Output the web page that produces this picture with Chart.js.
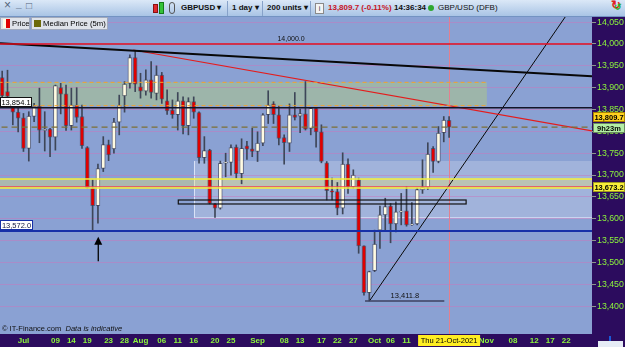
<!DOCTYPE html>
<html>
<head>
<meta charset="utf-8">
<title>GBPUSD 1 day</title>
<script src="https://cdn.jsdelivr.net/npm/chart.js@4.4.1/dist/chart.umd.min.js"></script>
<style>
  html, body { margin: 0; padding: 0; background: #2c0c5e; overflow: hidden; }
  #wrap { position: relative; width: 625px; height: 347px; font-family: "Liberation Sans", Arial, sans-serif; }
  #chart { position: absolute; left: 0; top: 0; }
  #toolbar { position: absolute; left: 0; top: 0; width: 625px; height: 16px; background: linear-gradient(#dbe8f7, #a9c4e5); border-bottom: 1px solid #7393c2; }
  #toolbar > * { position: absolute; white-space: nowrap; }
  .tb { top: 3px; font-size: 8px; line-height: 10px; font-weight: bold; color: #111; }
  .sep { top: 1px; width: 1px; height: 15px; background: #87a2c9; }
  .leg { position: absolute; top: 17px; height: 11px; background: #dfe3ea; border: 1px solid #a0a9bb; font-size: 7.7px; line-height: 11px; color: #000; white-space: nowrap; }
  #copy { position: absolute; left: 2px; top: 324px; font-size: 7.5px; line-height: 10px; color: #111; white-space: nowrap; }
</style>
</head>
<body>
<div id="wrap">
  <canvas id="chart" width="625" height="347"></canvas>
  <div id="toolbar">
    <span class="tb" style="left:4px;top:0;font-size:12px;font-weight:normal;color:#53637b">×</span>
    <span class="tb" style="left:16px;top:-1px;font-size:10px;color:#53637b">_</span>
    <span class="tb" style="left:26px;top:1px;font-size:10px;font-weight:normal;color:#53637b">□</span>
    <div style="left:153px;top:4px;width:3px;height:7px;background:#e0282c;border:1px solid #8a1010"></div>
    <div style="left:159px;top:2px;width:3px;height:10px;background:#34c238;border:1px solid #147a18"></div>
    <div style="left:169px;top:2px;width:4px;height:10px;border:1.5px solid #555;border-radius:3px"></div>
    <span class="tb" style="left:181px">GBPUSD ▾</span>
    <div class="sep" style="left:227px"></div>
    <span class="tb" style="left:232px">1 day ▾</span>
    <div class="sep" style="left:262px"></div>
    <span class="tb" style="left:267px">200 units ▾</span>
    <div class="sep" style="left:310px"></div>
    <div style="left:315px;top:3px;width:7px;height:9px;background:#f4f4f4;border:1px solid #8a8a8a;font-size:7px;line-height:9px;text-align:center;color:#333">i</div>
    <span class="tb" style="left:328px;color:#c8141e">13,809.7 (-0.11%)</span>
    <span class="tb" style="left:394px">14:36:34</span>
    <div style="left:428px;top:5px;width:6px;height:6px;border-radius:50%;background:#2fa830"></div>
    <span class="tb" style="left:438px;font-weight:normal">GBP/USD (DFB)</span>
    <span class="tb" style="left:611px;top:0;font-size:12px;color:#e02020">↻</span>
    <span class="tb" style="left:614px;top:2px;font-size:9px;color:#20b020">↺</span>
  </div>
  <div class="leg" style="left:0;width:28px">
    <span style="position:absolute;left:2px;top:1px;width:3px;height:9px;background:#fffbe6"></span>
    <span style="position:absolute;left:5px;top:1px;width:4px;height:9px;background:#e00000"></span>
    <span style="position:absolute;left:11px">Price</span>
  </div>
  <div class="leg" style="left:31px;width:75px">
    <span style="position:absolute;left:2px;top:2px;width:7px;height:7px;background:#6d6a0a"></span>
    <span style="position:absolute;left:11px">Median Price (5m)</span>
  </div>
  <div id="copy">© IT-Finance.com&nbsp; <i>Data is indicative</i></div>
</div>

<script>
// daily OHLC, one entry per trading day starting 25 Jun 2021
const openP = [13923, 13891, 13858, 13844, 13831, 13761, 13834, 13858, 13802, 13805,
  13787, 13900, 13886, 13813, 13860, 13834, 13763, 13670, 13630, 13715,
  13770, 13760, 13821, 13881, 13910, 13969, 13902, 13892, 13918, 13887,
  13929, 13870, 13849, 13838, 13870, 13813, 13868, 13843, 13740, 13757,
  13634, 13624, 13727, 13729, 13764, 13703, 13767, 13760, 13754, 13773,
  13838, 13863, 13838, 13786, 13773, 13838, 13835, 13840, 13807, 13853,
  13799, 13728, 13664, 13662, 13624, 13725, 13673, 13689, 13538, 13431,
  13481, 13574, 13609, 13629, 13588, 13615, 13618, 13586, 13588, 13666,
  13672, 13761, 13731, 13797, 13825];
const highP = [13938, 13940, 13868, 13854, 13841, 13845, 13864, 13899, 13845, 13807,
  13906, 13910, 13906, 13899, 13900, 13860, 13765, 13689, 13725, 13788,
  13780, 13830, 13883, 13914, 13975, 13984, 13933, 13941, 13960, 13950,
  13935, 13895, 13872, 13889, 13879, 13877, 13879, 13845, 13788, 13759,
  13635, 13732, 13750, 13769, 13769, 13783, 13777, 13807, 13799, 13841,
  13893, 13868, 13858, 13792, 13863, 13889, 13851, 13914, 13853, 13854,
  13815, 13731, 13693, 13683, 13751, 13737, 13712, 13693, 13538, 13480,
  13574, 13629, 13647, 13635, 13639, 13658, 13673, 13637, 13670, 13735,
  13774, 13765, 13811, 13834, 13834];
const lowP = [13876, 13856, 13815, 13799, 13754, 13732, 13822, 13774, 13755, 13742,
  13757, 13840, 13802, 13803, 13821, 13761, 13670, 13572, 13590, 13708,
  13733, 13750, 13792, 13844, 13899, 13891, 13876, 13883, 13876, 13872,
  13864, 13839, 13830, 13803, 13794, 13792, 13830, 13727, 13727, 13634,
  13603, 13622, 13696, 13700, 13693, 13680, 13736, 13742, 13731, 13767,
  13818, 13818, 13769, 13725, 13754, 13826, 13797, 13803, 13792, 13764,
  13728, 13643, 13643, 13609, 13611, 13658, 13670, 13521, 13425, 13411.8,
  13479, 13532, 13573, 13545, 13570, 13586, 13583, 13585, 13586, 13658,
  13667, 13706, 13728, 13776, 13786];
const closeP = [13881, 13880, 13844, 13830, 13761, 13835, 13858, 13803, 13805, 13787,
  13905, 13885, 13813, 13860, 13832, 13767, 13671, 13630, 13715, 13770,
  13746, 13821, 13859, 13908, 13969, 13908, 13892, 13918, 13889, 13929,
  13874, 13847, 13838, 13870, 13813, 13868, 13844, 13740, 13756, 13635,
  13624, 13727, 13730, 13763, 13703, 13761, 13759, 13754, 13773, 13838,
  13860, 13838, 13784, 13774, 13838, 13832, 13841, 13805, 13853, 13799,
  13731, 13664, 13661, 13624, 13725, 13673, 13700, 13538, 13431, 13479,
  13542, 13609, 13628, 13588, 13616, 13617, 13586, 13588, 13667, 13672,
  13748, 13731, 13796, 13826, 13809.7];

const firstDay = '2021-06-25';
const tickDays = ['2021-07-01', '2021-07-09', '2021-07-14', '2021-07-19', '2021-07-23', '2021-07-28',
  '2021-08-02', '2021-08-06', '2021-08-11', '2021-08-16', '2021-08-20', '2021-08-25',
  '2021-09-01', '2021-09-08', '2021-09-13', '2021-09-17', '2021-09-22', '2021-09-27',
  '2021-10-01', '2021-10-06', '2021-10-11', '2021-11-01', '2021-11-08', '2021-11-12',
  '2021-11-17', '2021-11-22'];
const yTicks = [13400, 13450, 13500, 13550, 13600, 13650, 13700, 13750, 13800, 13850, 13900, 13950, 14000, 14050];

// drawn levels and studies (x in trading-day index, y in price)
const roundLevel = 14000.0;
const resistance = 13854.1;
const lastPrice = 13809.7;
const pivotLevel = 13673.2;
const supportLevel = 13572.0;
const swingLow = 13411.8;
const supplyZone = [13858.8, 13912.3];
const rangeZone = [13601.0, 13732.2];
const pivotBand = [13670.4, 13691.0];
const consolBox = [13633.8, 13642.9];
const downTrend = [[-0.41, 14001.6], [110.86, 13926.3]];
const redTrend = [[24.64, 13986.3], [110.86, 13800.9]];
const upTrend = [[69.1, 13413.0], [106.0, 14065.0]];
const arrowAt = [18.06, 13559, 13503];
const timerText = '9h23m';

const MONTHS = ['Jan', 'Feb', 'Mar', 'Apr', 'May', 'Jun', 'Jul', 'Aug', 'Sep', 'Oct', 'Nov', 'Dec'];
const WEEKDAYS = ['Sun', 'Mon', 'Tue', 'Wed', 'Thu', 'Fri', 'Sat'];

const days = [];
for (let d = new Date(firstDay + 'T00:00:00Z'); days.length < 115; d.setUTCDate(d.getUTCDate() + 1)) {
  const wd = d.getUTCDay();
  if (wd > 0 && wd < 6) days.push(new Date(d));
}
const tickIdx = tickDays.map((s) => days.findIndex((d) => d.toISOString().slice(0, 10) === s));
const pad2 = (n) => String(n).padStart(2, '0');
function tickText(i) {
  const d = days[i], prev = days[i - 1];
  if (!prev || prev.getUTCMonth() !== d.getUTCMonth()) return MONTHS[d.getUTCMonth()];
  return pad2(d.getUTCDate());
}
const cursorIdx = closeP.length - 1;
const cd = days[cursorIdx];
const cursorText = `${WEEKDAYS[cd.getUTCDay()]} ${pad2(cd.getUTCDate())}-${MONTHS[cd.getUTCMonth()]}-${cd.getUTCFullYear()}`;
const fmt1 = (v) => v.toLocaleString('en-US', { minimumFractionDigits: 1, maximumFractionDigits: 1 });

const xMin = -0.41, xMax = 110.86;
const zoneEnd = 91.1, rangeStart = 36.05;
const boxFrom = 33.1, boxTo = 87.2;
const swingFrom = 68.2, swingTo = 83.1;

const idx = openP.map((_, i) => i);
const bodies = idx.map((i) => ({ x: i, y: [Math.min(openP[i], closeP[i]), Math.max(openP[i], closeP[i])] }));
const wicks = idx.map((i) => ({ x: i, y: [lowP[i], highP[i]] }));
const bodyColors = idx.map((i) => (closeP[i] >= openP[i] ? '#fffbe2' : '#e00000'));

const flat = (v, x0 = -2, x1 = 113) => [[x0, v], [x1, v]];
const lineDs = (pts, color, width, dash) => ({
  type: 'line',
  data: pts.map(([x, y]) => ({ x, y })),
  borderColor: color,
  borderWidth: width,
  borderDash: dash || [],
  pointRadius: 0,
  fill: false,
  tension: 0,
  order: 0,
});

function tag(ctx, x0, y0, w, h, bg, border, fg, text, font) {
  ctx.fillStyle = bg;
  ctx.fillRect(x0, y0, w, h);
  if (border) {
    ctx.strokeStyle = border;
    ctx.lineWidth = 1;
    ctx.strokeRect(x0 + 0.5, y0 + 0.5, w - 1, h - 1);
  }
  ctx.fillStyle = fg;
  ctx.font = font;
  ctx.textAlign = 'center';
  ctx.textBaseline = 'middle';
  ctx.fillText(text, x0 + w / 2, y0 + h / 2 + 0.5);
}

const FONT = '"Liberation Sans", Arial, sans-serif';

const drawing = {
  id: 'drawing',
  beforeDraw(chart) {
    const { ctx, chartArea: a, scales: { x, y } } = chart;
    ctx.save();
    ctx.fillStyle = '#2c0c5e';
    ctx.fillRect(0, 0, chart.width, chart.height);
    ctx.fillStyle = '#8aa1d3';
    ctx.fillRect(a.left, a.top, a.width, a.height);
    ctx.beginPath();
    ctx.rect(a.left, a.top, a.width, a.height);
    ctx.clip();
    const band = (x0, x1, lo, hi, fill) => {
      const L = x0 === null ? a.left : x.getPixelForValue(x0);
      const R = x1 === null ? a.right : x.getPixelForValue(x1);
      const T = y.getPixelForValue(hi), B = y.getPixelForValue(lo);
      ctx.fillStyle = fill;
      ctx.fillRect(L, T, R - L, B - T);
      return [L, T, R, B];
    };
    band(null, zoneEnd, supplyZone[0], supplyZone[1], 'rgba(176,201,129,0.5)');
    const r = band(rangeStart, null, rangeZone[0], rangeZone[1], 'rgba(255,255,255,0.2)');
    ctx.strokeStyle = 'rgba(235,240,255,0.8)';
    ctx.lineWidth = 1;
    ctx.beginPath();
    ctx.moveTo(r[0] + 0.5, r[1]);
    ctx.lineTo(r[0] + 0.5, r[3] - 0.5);
    ctx.lineTo(r[2], r[3] - 0.5);
    ctx.stroke();
    band(null, null, pivotBand[0], pivotBand[1], 'rgba(232,226,110,0.35)');
    const cx = Math.round(x.getPixelForValue(cursorIdx)) + 0.5;
    ctx.strokeStyle = '#e3808f';
    ctx.beginPath();
    ctx.moveTo(cx, a.top);
    ctx.lineTo(cx, a.bottom);
    ctx.stroke();
    ctx.restore();
  },
  afterDraw(chart) {
    const { ctx, chartArea: a, scales: { x, y } } = chart;
    ctx.save();
    // consolidation box
    const bx0 = x.getPixelForValue(boxFrom), bx1 = x.getPixelForValue(boxTo);
    const by0 = y.getPixelForValue(consolBox[1]), by1 = y.getPixelForValue(consolBox[0]);
    ctx.strokeStyle = '#111';
    ctx.lineWidth = 1.2;
    ctx.strokeRect(bx0, by0, bx1 - bx0, by1 - by0);

    // arrow under the July low
    const ax = x.getPixelForValue(arrowAt[0]);
    const tipY = y.getPixelForValue(arrowAt[1]), tailY = y.getPixelForValue(arrowAt[2]);
    ctx.strokeStyle = '#000';
    ctx.lineWidth = 1.3;
    ctx.beginPath();
    ctx.moveTo(ax, tipY + 6);
    ctx.lineTo(ax, tailY);
    ctx.stroke();
    ctx.fillStyle = '#000';
    ctx.beginPath();
    ctx.moveTo(ax, tipY);
    ctx.lineTo(ax - 4, tipY + 8);
    ctx.lineTo(ax + 4, tipY + 8);
    ctx.closePath();
    ctx.fill();

    // level captions
    ctx.fillStyle = '#111';
    ctx.font = '7px ' + FONT;
    ctx.textAlign = 'center';
    ctx.textBaseline = 'bottom';
    ctx.fillText(fmt1(roundLevel), x.getPixelForValue(54.3), y.getPixelForValue(roundLevel) - 1);
    ctx.font = '7.5px ' + FONT;
    ctx.fillText(fmt1(swingLow), x.getPixelForValue(75.7), y.getPixelForValue(swingLow) - 1);

    const ry = Math.round(y.getPixelForValue(resistance));
    tag(ctx, a.left, ry - 11, 32, 10, '#ffffff', '#111', '#000', fmt1(resistance), '7.5px ' + FONT);
    const sy = Math.round(y.getPixelForValue(supportLevel));
    tag(ctx, a.left, sy - 11, 33, 10, '#ffffff', '#1630a8', '#101840', fmt1(supportLevel), '7.5px ' + FONT);

    // price tags on the right axis
    const py = Math.round(y.getPixelForValue(lastPrice));
    tag(ctx, a.right + 1, py - 15, 32, 10, '#ffd21f', '#a88400', '#000', fmt1(lastPrice), 'bold 7.5px ' + FONT);
    tag(ctx, a.right + 1, py - 4, 32, 10, '#b4eea6', '#6a8a60', '#000', timerText, 'bold 7.5px ' + FONT);
    const pp = Math.round(y.getPixelForValue(pivotLevel));
    tag(ctx, a.right + 1, pp - 5, 32, 10, '#f8ef3a', '#a09a20', '#000', fmt1(pivotLevel), 'bold 7.5px ' + FONT);

    // cursor date on the time axis
    const cx = x.getPixelForValue(cursorIdx);
    tag(ctx, cx - 31, a.bottom + 1, 62, 11, '#ffee22', null, '#000', cursorText, '7.5px ' + FONT);

    // corner widget
    ctx.fillStyle = '#e6ecf6';
    ctx.fillRect(a.right + 6, a.bottom + 7, 25, 6);
    ctx.fillStyle = '#1a5ad8';
    ctx.fillRect(a.right + 17, a.bottom + 2, 2, 5);
    ctx.restore();
  },
};

new Chart(document.getElementById('chart'), {
  type: 'bar',
  data: {
    datasets: [
      {
        label: 'wicks',
        data: wicks,
        backgroundColor: '#3e4658',
        barThickness: 1,
        grouped: false,
        order: 6,
      },
      {
        label: 'Price',
        data: bodies,
        backgroundColor: bodyColors,
        borderColor: 'rgba(60,60,80,0.6)',
        borderWidth: 1,
        borderSkipped: false,
        barThickness: 4,
        minBarLength: 1,
        grouped: false,
        order: 5,
      },
      lineDs(flat(supplyZone[1], -2, zoneEnd), '#f3a329', 1, [4, 3]),
      lineDs(flat(supplyZone[0], -2, zoneEnd), '#f3a329', 1, [4, 3]),
      lineDs(flat(pivotBand[1]), '#f4f03c', 1.5),
      lineDs(flat(pivotBand[0]), '#f4f03c', 1.5),
      lineDs(flat(pivotLevel), '#ee4455', 1.2),
      lineDs(flat(roundLevel), '#e01020', 1.5),
      lineDs(flat(resistance), '#141428', 1.5),
      lineDs(flat(lastPrice), '#7d7034', 1.2, [6, 4]),
      lineDs(flat(supportLevel), '#1630a8', 2),
      lineDs(flat(swingLow, swingFrom, swingTo), '#3c4260', 1.5),
      lineDs(downTrend, '#080808', 2),
      lineDs(redTrend, '#e41c1c', 1.2),
      lineDs(upTrend, '#080808', 1),
    ],
  },
  options: {
    responsive: false,
    animation: false,
    layout: { padding: { top: 17, left: 0, right: 0, bottom: 0 } },
    plugins: { legend: { display: false }, tooltip: { enabled: false } },
    scales: {
      x: {
        type: 'linear',
        min: xMin,
        max: xMax,
        offset: false,
        grid: { display: false, drawTicks: false, offset: false },
        border: { display: false },
        afterBuildTicks: (s) => { s.ticks = tickIdx.map((v) => ({ value: v })); },
        afterFit: (s) => { s.height = 13; },
        ticks: {
          autoSkip: false,
          maxRotation: 0,
          padding: 2,
          color: '#8cf53c',
          font: { size: 8, weight: 'bold', family: FONT },
          callback: (v) => tickText(v),
        },
      },
      y: {
        position: 'right',
        min: 13336.2,
        max: 14061.8,
        grid: { color: 'rgba(200,120,190,0.5)', tickColor: '#8a9a8a', tickLength: 4 },
        border: { display: false },
        afterBuildTicks: (s) => { s.ticks = yTicks.map((v) => ({ value: v })); },
        afterFit: (s) => { s.width = 33; },
        ticks: {
          padding: 1,
          color: '#8cf53c',
          font: { size: 8.8, family: FONT },
          callback: (v) => v.toLocaleString('en-US'),
        },
      },
    },
  },
  plugins: [drawing],
});
</script>
</body>
</html>
